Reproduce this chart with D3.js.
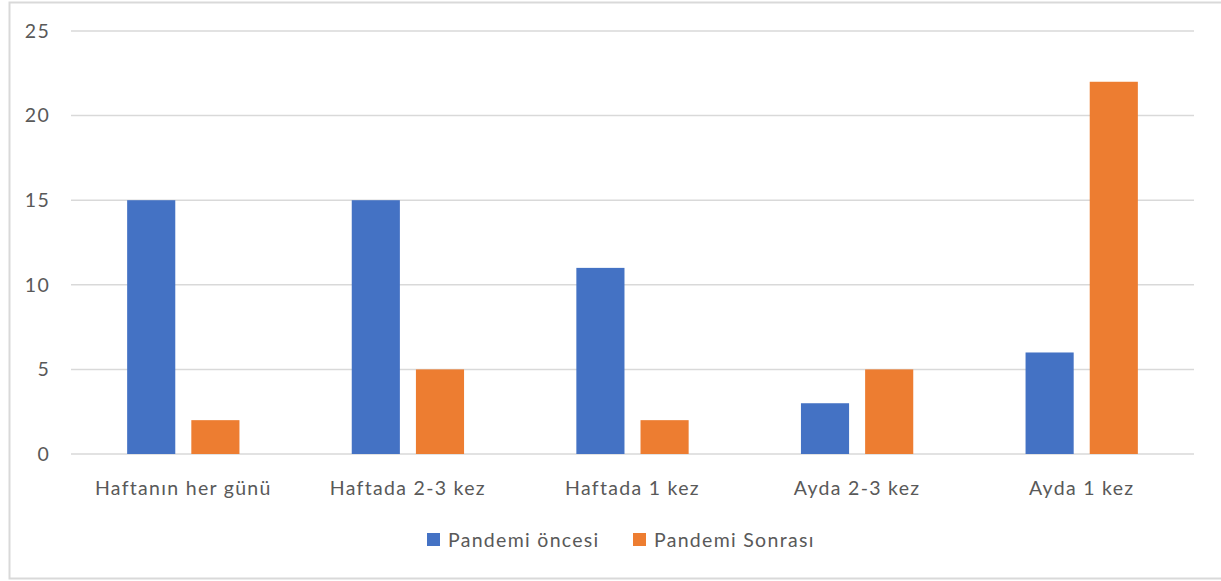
<!DOCTYPE html>
<html>
<head>
<meta charset="utf-8">
<script src="https://cdn.jsdelivr.net/npm/d3@7"></script>
<style>
  body { margin: 0; background: #fff; }
  svg text { font-family: Lato, "Open Sans", sans-serif; fill: #595959; letter-spacing: 1.3px; }
</style>
</head>
<body>
<div id="chart"></div>
<script>
// Kategoriler ve seriler
var categories = ["Haftanın her günü", "Haftada 2-3 kez", "Haftada 1 kez", "Ayda 2-3 kez", "Ayda 1 kez"];
var seriesNames = ["Pandemi öncesi", "Pandemi Sonrası"];
var oncesi = [15, 15, 11, 3, 6];
var sonrasi = [2, 5, 2, 5, 22];
var yTicks = [0, 5, 10, 15, 20, 25];
var colors = ["#4472C4", "#ED7D31"];

var W = 1221, H = 581;
var margin = {top: 31, right: 27, bottom: 127, left: 71};
var width = W - margin.left - margin.right;
var height = H - margin.top - margin.bottom;

var svg = d3.select("#chart").append("svg")
    .attr("width", W)
    .attr("height", H);

// Borda externa do gráfico
svg.append("rect")
    .attr("x", 9.5).attr("y", 2.5)
    .attr("width", W).attr("height", 576)
    .attr("fill", "none")
    .attr("stroke", "#D9D9D9")
    .attr("stroke-width", 2);

var g = svg.append("g")
    .attr("transform", "translate(" + margin.left + "," + margin.top + ")");

var x0 = d3.scaleBand()
    .domain(categories)
    .range([0, width])
    .paddingInner(0.5)
    .paddingOuter(0.25);

var x1 = d3.scaleBand()
    .domain(seriesNames)
    .range([0, x0.bandwidth()])
    .paddingInner(0.25);

var y = d3.scaleLinear()
    .domain([0, 25])
    .range([height, 0]);

// Linhas de grade
g.append("g").selectAll("line")
    .data(yTicks)
  .enter().append("line")
    .attr("x1", 0).attr("x2", width)
    .attr("y1", function(d) { return y(d); })
    .attr("y2", function(d) { return y(d); })
    .attr("stroke", "#D9D9D9")
    .attr("stroke-width", 1.5);

// Eixo y (só os rótulos)
var yAxis = d3.axisLeft(y).tickValues(yTicks).tickSize(0).tickPadding(21);
g.append("g").attr("class", "axis y").call(yAxis)
  .call(function(s) { s.select(".domain").remove(); })
  .selectAll("text")
    .style("font-size", "19.5px")
    .attr("fill", "#595959");

// Barras
var data = categories.map(function(c, i) {
  return {key: c, values: [
    {name: seriesNames[0], value: oncesi[i]},
    {name: seriesNames[1], value: sonrasi[i]}
  ]};
});

var groups = g.selectAll(".group")
    .data(data)
  .enter().append("g")
    .attr("class", "group")
    .attr("transform", function(d) { return "translate(" + x0(d.key) + ",0)"; });

groups.selectAll("rect")
    .data(function(d) { return d.values; })
  .enter().append("rect")
    .attr("x", function(d) { return x1(d.name); })
    .attr("y", function(d) { return y(d.value); })
    .attr("width", x1.bandwidth())
    .attr("height", function(d) { return height - y(d.value); })
    .attr("fill", function(d, i) { return colors[i]; });

// Eixo x (só os rótulos)
var xAxis = d3.axisBottom(d3.scaleBand().domain(categories).range([0, width])).tickSize(0).tickPadding(27);
g.append("g").attr("class", "axis x")
    .attr("transform", "translate(0," + height + ")")
    .call(xAxis)
  .call(function(s) { s.select(".domain").remove(); })
  .selectAll("text")
    .style("font-size", "19.5px")
    .attr("fill", "#595959");

// Legenda
var legend = svg.append("g").attr("transform", "translate(427,533)");
var legendX = [0, 206];
seriesNames.forEach(function(name, i) {
  var item = legend.append("g").attr("transform", "translate(" + legendX[i] + ",0)");
  item.append("rect").attr("width", 13).attr("height", 13).attr("fill", colors[i]);
  item.append("text")
    .attr("x", 21).attr("y", 7)
    .attr("dy", "0.35em")
    .style("font-size", "19.5px")
    .text(name);
});
</script>
</body>
</html>
